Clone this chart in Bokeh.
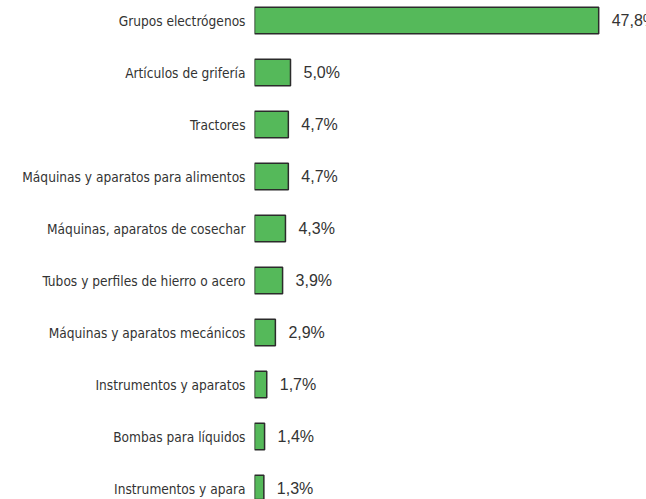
from bokeh.plotting import figure
from bokeh.models import Range1d, FixedTicker, ColumnDataSource
from bokeh.core.properties import value
from bokeh.embed import file_html
from bokeh.resources import INLINE

categories = [
    "Grupos electrógenos",
    "Artículos de grifería",
    "Tractores",
    "Máquinas y aparatos para alimentos",
    "Máquinas, aparatos de cosechar",
    "Tubos y perfiles de hierro o acero",
    "Máquinas y aparatos mecánicos",
    "Instrumentos y aparatos",
    "Bombas para líquidos",
    "Instrumentos y apara",
]
shares = [47.8, 5.0, 4.7, 4.7, 4.3, 3.9, 2.9, 1.7, 1.4, 1.3]

pos = list(range(len(categories)))
value_labels = [f"{v:.1f}".replace(".", ",") + "%" for v in shares]

src = ColumnDataSource(dict(y=pos, v=shares, lab=value_labels))

p = figure(width=646, height=499, output_backend="svg", toolbar_location=None,
           x_range=Range1d(0, 54.44), y_range=Range1d(9.211, -0.385),
           min_border_left=254, min_border_right=0, min_border_top=0, min_border_bottom=0)
p.outline_line_color = None
p.xgrid.visible = False
p.ygrid.visible = False
p.xaxis.visible = False

p.hbar(y="y", left=0, right="v", height=0.51, source=src,
       fill_color="#55b95a", line_color="#2b2b2b", line_width=1.5)

p.text(x="v", y="y", text="lab", source=src, x_offset=13,
       text_align="left", text_baseline="middle",
       text_font=value("Liberation Sans"), text_font_size="16px", text_color="#333333")

ya = p.yaxis[0]
ya.ticker = FixedTicker(ticks=pos)
ya.major_label_overrides = {i: c for i, c in zip(pos, categories)}
ya.axis_line_color = None
ya.major_tick_line_color = None
ya.minor_tick_line_color = None
ya.major_label_standoff = 3
ya.major_label_text_font = "DejaVu Sans Condensed"
ya.major_label_text_font_size = "13.6px"
ya.major_label_text_color = "#333333"

open("out.html", "w").write(file_html(p, INLINE))
